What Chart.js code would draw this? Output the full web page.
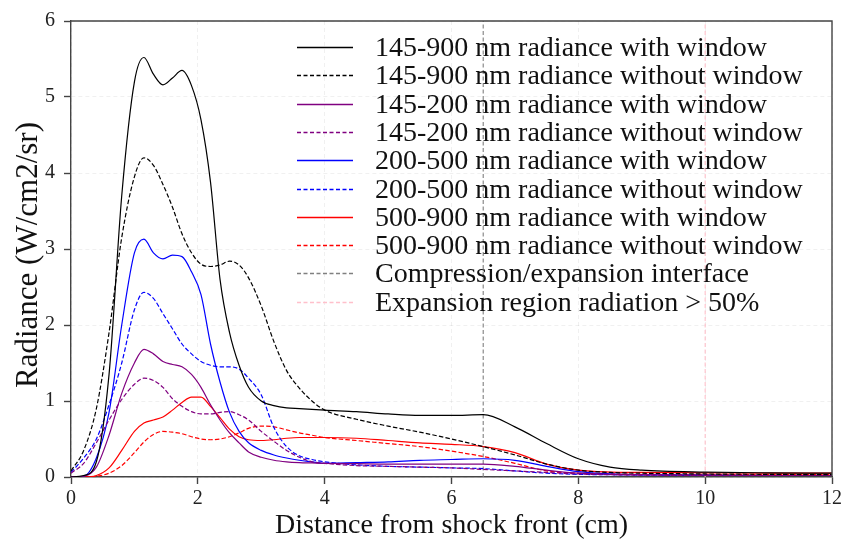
<!DOCTYPE html>
<html>
<head>
<meta charset="utf-8">
<script src="https://cdn.jsdelivr.net/npm/chart.js@4/dist/chart.umd.min.js"></script>
<style>
  html, body { margin: 0; padding: 0; background: #ffffff; }
  #wrap { width: 848px; height: 548px; }
</style>
</head>
<body>
<div id="wrap"><canvas id="c" width="848" height="548"></canvas></div>
<script>
// ---- data ----
const distance = [0, 0.2, 0.4, 0.6, 0.8, 1.0, 1.15, 1.3, 1.45, 1.6, 1.75, 1.9, 2.05, 2.2, 2.35, 2.5, 2.65, 2.8, 3.0, 3.2, 3.4, 3.6, 3.8, 4.0, 4.5, 5.0, 5.5, 6.0, 6.5, 7.0, 7.5, 8.0, 8.5, 9.0, 10, 11, 12];

const total_with    = [0, 0.02, 0.2, 1.35, 3.7, 5.2, 5.52, 5.3, 5.16, 5.25, 5.35, 5.15, 4.7, 3.88, 2.6, 1.9, 1.47, 1.18, 1.0, 0.94, 0.91, 0.9, 0.89, 0.88, 0.86, 0.83, 0.81, 0.81, 0.82, 0.66, 0.44, 0.24, 0.13, 0.09, 0.065, 0.055, 0.05];
const total_without = [0.08, 0.35, 0.9, 1.9, 3.15, 3.95, 4.2, 4.1, 3.85, 3.55, 3.2, 2.95, 2.8, 2.77, 2.79, 2.84, 2.79, 2.62, 2.25, 1.78, 1.4, 1.17, 1.0, 0.88, 0.76, 0.67, 0.59, 0.5, 0.4, 0.29, 0.17, 0.09, 0.06, 0.05, 0.04, 0.035, 0.03];
const vuv_with      = [0, 0.01, 0.13, 0.55, 1.1, 1.5, 1.68, 1.62, 1.52, 1.48, 1.45, 1.35, 1.18, 0.95, 0.75, 0.58, 0.45, 0.33, 0.26, 0.22, 0.2, 0.19, 0.185, 0.18, 0.175, 0.17, 0.17, 0.17, 0.17, 0.14, 0.09, 0.05, 0.035, 0.03, 0.025, 0.02, 0.02];
const vuv_without   = [0.05, 0.18, 0.45, 0.75, 1.02, 1.22, 1.3, 1.27, 1.18, 1.03, 0.93, 0.86, 0.83, 0.83, 0.85, 0.86, 0.82, 0.75, 0.6, 0.47, 0.35, 0.26, 0.2, 0.18, 0.15, 0.14, 0.13, 0.12, 0.1, 0.08, 0.06, 0.04, 0.03, 0.025, 0.02, 0.02, 0.02];
const uv_with       = [0, 0.01, 0.25, 0.85, 2.0, 2.95, 3.13, 2.95, 2.87, 2.92, 2.9, 2.7, 2.4, 1.75, 1.25, 0.85, 0.6, 0.45, 0.35, 0.29, 0.25, 0.22, 0.2, 0.18, 0.19, 0.2, 0.22, 0.23, 0.24, 0.22, 0.14, 0.07, 0.04, 0.03, 0.025, 0.02, 0.02];
const uv_without    = [0.06, 0.25, 0.5, 0.95, 1.5, 2.2, 2.43, 2.35, 2.15, 1.95, 1.75, 1.62, 1.52, 1.47, 1.45, 1.45, 1.42, 1.3, 1.08, 0.65, 0.4, 0.28, 0.23, 0.2, 0.16, 0.14, 0.13, 0.12, 0.11, 0.08, 0.05, 0.035, 0.03, 0.025, 0.02, 0.02, 0.02];
const vis_with      = [0, 0, 0.02, 0.12, 0.35, 0.6, 0.71, 0.75, 0.79, 0.88, 0.98, 1.05, 1.05, 0.93, 0.78, 0.63, 0.53, 0.49, 0.48, 0.49, 0.51, 0.52, 0.52, 0.52, 0.51, 0.48, 0.45, 0.43, 0.4, 0.32, 0.17, 0.09, 0.065, 0.06, 0.055, 0.05, 0.05];
const vis_without   = [0, 0, 0.01, 0.05, 0.15, 0.32, 0.46, 0.56, 0.6, 0.59, 0.57, 0.53, 0.5, 0.49, 0.5, 0.53, 0.58, 0.64, 0.67, 0.66, 0.62, 0.58, 0.55, 0.52, 0.48, 0.44, 0.4, 0.34, 0.27, 0.18, 0.08, 0.05, 0.04, 0.035, 0.03, 0.03, 0.03];

const interfaceX = 6.5;
const expansionX = 10;
const yRange = [0, 6];

const seriesLabels = [
  '145-900 nm radiance with window',
  '145-900 nm radiance without window',
  '145-200 nm radiance with window',
  '145-200 nm radiance without window',
  '200-500 nm radiance with window',
  '200-500 nm radiance without window',
  '500-900 nm radiance with window',
  '500-900 nm radiance without window',
  'Compression/expansion interface',
  'Expansion region radiation > 50%'
];
const seriesColors = ['#000000', '#000000', '#800080', '#800080', '#0000ff', '#0000ff', '#ff0000', '#ff0000', '#808080', '#ffc0cb'];
const seriesDashed = [false, true, false, true, false, true, false, true, true, true];
const xTitle = 'Distance from shock front (cm)';
const yTitle = 'Radiance (W/cm2/sr)';

// ---- build ----
const SERIF = '"Liberation Serif", "Times New Roman", serif';
const DASH = [4.5, 2.2];
function pts(arr) { return distance.map((x, i) => ({ x: x, y: arr[i] })); }
function curve(i, arr) {
  return {
    label: seriesLabels[i], data: pts(arr), borderColor: seriesColors[i], backgroundColor: seriesColors[i],
    borderWidth: 1.2, borderDash: seriesDashed[i] ? DASH : [], pointRadius: 0,
    cubicInterpolationMode: 'monotone', fill: false
  };
}
function vline(i, x) {
  return {
    label: seriesLabels[i], data: [{ x: x, y: yRange[0] }, { x: x, y: yRange[1] }],
    borderColor: seriesColors[i], backgroundColor: seriesColors[i], borderWidth: 1.1,
    borderDash: [4, 2.5], pointRadius: 0, fill: false
  };
}

const datasets = [
  curve(0, total_with), curve(1, total_without),
  curve(2, vuv_with), curve(3, vuv_without),
  curve(4, uv_with), curve(5, uv_without),
  curve(6, vis_with), curve(7, vis_without),
  vline(8, interfaceX), vline(9, expansionX)
];

const framePlugin = {
  id: 'frame',
  afterDatasetsDraw(chart) {
    const { ctx, chartArea: a } = chart;
    ctx.save();
    // legend (no frame), drawn inside the axes
    const rowY0 = 47, rowStep = 28.3, lx0 = 297, lx1 = 353, tx = 375;
    ctx.font = '28px ' + SERIF;
    ctx.textBaseline = 'middle';
    ctx.textAlign = 'left';
    for (let i = 0; i < seriesLabels.length; i++) {
      const y = Math.round(rowY0 + i * rowStep) + 0.5;
      ctx.beginPath();
      ctx.setLineDash(seriesDashed[i] ? [4, 2.5] : []);
      ctx.strokeStyle = seriesColors[i];
      ctx.lineWidth = 1.6;
      ctx.moveTo(lx0, y);
      ctx.lineTo(lx1, y);
      ctx.stroke();
      ctx.setLineDash([]);
      ctx.fillStyle = '#111111';
      ctx.fillText(seriesLabels[i], tx, y + 1);
    }
    // y-axis title
    ctx.save();
    ctx.translate(29, 255);
    ctx.rotate(-Math.PI / 2);
    ctx.textAlign = 'center';
    ctx.textBaseline = 'middle';
    ctx.font = '31px ' + SERIF;
    ctx.fillStyle = '#111111';
    ctx.fillText(yTitle, 0, 0);
    ctx.restore();
    // top and right spines
    ctx.strokeStyle = '#444444';
    ctx.lineWidth = 1.4;
    ctx.setLineDash([]);
    ctx.beginPath();
    ctx.moveTo(a.left, a.top);
    ctx.lineTo(a.right, a.top);
    ctx.lineTo(a.right, a.bottom);
    ctx.stroke();
    ctx.restore();
  }
};

new Chart(document.getElementById('c'), {
  type: 'line',
  data: { datasets: datasets },
  options: {
    responsive: false,
    animation: false,
    layout: { padding: { left: 0, top: 11, right: 16, bottom: 0 } },
    plugins: { legend: { display: false }, tooltip: { enabled: false } },
    scales: {
      x: {
        type: 'linear', min: 0, max: 12,
        ticks: { stepSize: 2, color: '#222222', font: { family: SERIF, size: 20 }, padding: 3, maxRotation: 0 },
        grid: { color: 'rgba(0,0,0,0.06)', lineWidth: 1, drawTicks: true, tickLength: 7, tickColor: '#444444', tickWidth: 1.4, tickBorderDash: [0, 0] },
        border: { display: true, color: '#444444', width: 1.4, dash: [4, 3] },
        title: { display: true, text: xTitle, color: '#111111', font: { family: SERIF, size: 28 }, padding: { top: 0, bottom: 6 } },
        afterFit(s) { s.height = 71; }
      },
      y: {
        type: 'linear', min: yRange[0], max: yRange[1],
        ticks: { stepSize: 1, color: '#222222', font: { family: SERIF, size: 20 }, padding: 9 },
        grid: { color: 'rgba(0,0,0,0.06)', lineWidth: 1, drawTicks: true, tickLength: 7, tickColor: '#444444', tickWidth: 1.4, tickBorderDash: [0, 0] },
        border: { display: true, color: '#444444', width: 1.4, dash: [4, 3] },
        title: { display: false, text: yTitle },
        afterFit(s) { s.width = 71; }
      }
    }
  },
  plugins: [framePlugin]
});
</script>
</body>
</html>
